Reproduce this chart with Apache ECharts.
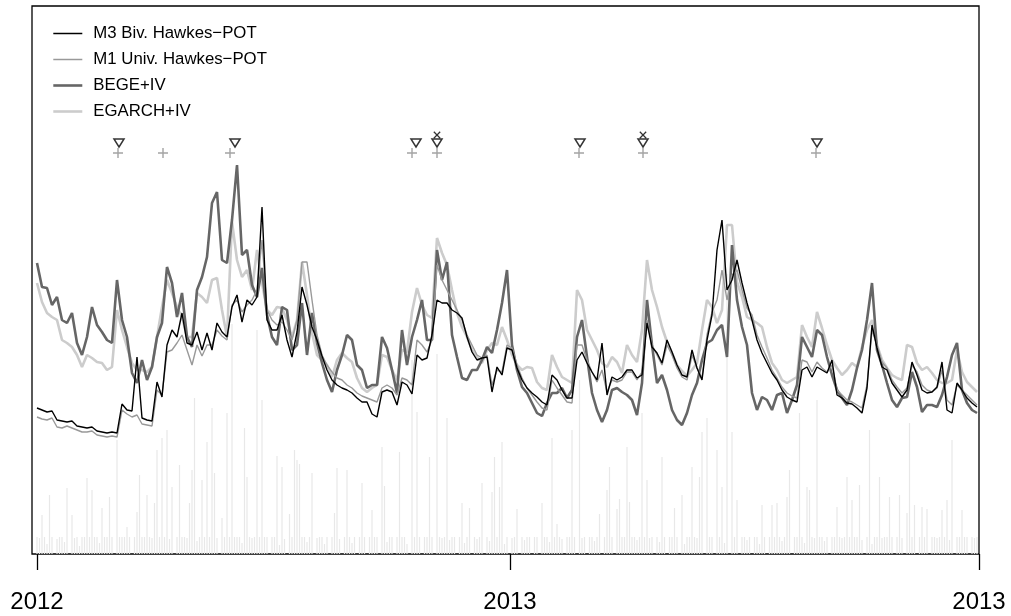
<!DOCTYPE html>
<html>
<head>
<meta charset="utf-8">
<script src="https://cdn.jsdelivr.net/npm/echarts@6/dist/echarts.min.js"></script>
<style>html,body{margin:0;padding:0;background:#fff}#c{width:1011px;height:616px}</style>
</head>
<body>
<div id="c"></div>
<script>
const tickPos = [0, 94.6, 188.4];
const tickLabels = ['2012', '2013', '2013'];

const m3 = [146,144,142,143,134,133,132,133,128,127,126,127,123,122,121,122,121,150,144,143,197,136,134,133,172,157,209,224,217,241,211,209,222,204,221,204,231,222,217,
247,259,232,254,249,257,347,234,224,224,239,214,197,222,267,249,227,214,198,184,174,169,166,164,161,156,152,152,140,137,162,164,162,149,172,169,160,199,194,196,
219,254,251,251,244,241,236,217,202,194,196,197,162,187,179,206,204,186,174,166,161,157,152,149,179,174,164,156,156,194,202,191,182,174,211,159,177,174,177,
184,184,176,179,231,207,201,191,214,202,189,179,177,204,186,174,214,239,304,334,264,274,294,271,251,234,214,201,191,181,174,164,157,154,152,184,187,177,
187,184,181,194,159,156,151,150,146,141,166,229,206,187,184,171,164,157,164,192,179,164,161,162,167,192,144,141,171,164,156,151,147];

const m1 = [137,135,134,136,127,126,128,126,124,122,122,123,119,118,117,118,117,144,140,137,139,130,129,128,164,159,202,204,211,219,204,189,209,198,209,209,224,218,214,
249,254,242,249,254,264,314,244,234,229,232,224,214,234,292,292,254,219,199,189,182,176,174,169,166,161,158,156,154,152,166,169,166,159,176,174,169,214,209,202,
214,289,274,264,254,244,234,219,209,199,196,199,169,184,182,209,206,189,176,166,159,152,146,144,174,166,159,152,151,209,209,194,182,172,184,162,174,172,174,
182,182,174,182,234,209,199,189,209,199,186,177,174,199,186,176,219,242,254,284,254,279,284,264,246,239,219,207,196,184,176,167,161,158,156,194,192,182,
192,186,182,189,164,159,154,152,149,146,169,224,209,192,186,174,167,161,166,189,182,169,164,162,166,184,154,149,169,164,159,154,149];

const bege = [291,267,266,249,257,234,231,241,211,199,217,247,229,222,214,211,274,234,217,181,171,194,174,187,217,231,287,271,237,261,217,207,264,277,297,351,362,294,291,
334,389,299,304,269,257,286,239,217,209,247,244,204,209,251,199,241,211,191,174,162,184,199,219,214,189,184,166,169,169,217,206,184,161,224,189,217,234,254,214,
214,304,274,292,219,197,176,174,184,184,194,207,201,224,251,284,209,184,167,161,151,141,138,151,161,161,166,156,164,217,234,197,161,144,132,144,164,166,162,
159,154,139,171,254,209,171,179,164,144,134,129,141,159,171,194,211,214,224,229,197,309,254,227,209,161,144,157,154,144,159,161,141,154,169,217,207,197,
224,219,197,179,164,156,149,164,186,204,234,271,204,189,171,154,147,156,157,182,167,142,149,149,147,159,177,199,211,164,151,144,141];

const egarch = [271,252,241,237,234,214,211,207,199,187,199,196,192,191,184,187,244,224,207,191,184,184,182,187,217,247,274,261,247,237,217,217,261,257,251,274,276,244,217,
332,294,277,284,264,304,271,244,239,247,246,234,217,234,292,259,221,199,194,189,177,194,201,196,192,176,166,162,166,169,199,197,184,174,204,202,242,266,249,239,
236,316,301,289,264,241,227,217,204,197,191,204,211,209,227,214,199,189,184,187,186,172,166,164,199,187,177,174,171,264,254,224,214,204,191,187,197,192,181,
209,199,192,224,294,264,247,227,212,201,189,183,178,184,191,224,254,247,231,244,329,329,272,257,237,234,231,227,207,191,184,174,171,174,177,229,217,207,
242,226,209,194,186,179,184,191,187,207,224,234,209,194,186,179,176,174,209,207,191,184,187,181,174,171,171,174,204,182,172,167,162];

// absolute returns (light grey needles), half-step grid
const combBase = [
17,16,0,17,10,17,17,0,15,17,17,12,17,0,17,16,17,8,17,17,
0,17,15,17,17,11,0,17,17,16,17,0,13,17,17,17,9,17,0,17,
17,14,17,17,0,17,16,10,17,17,0,17,17,15,17,0,17,12,17,17,
16,0,17,17,13,17,0,17,17,17,10,17,16,0,17,17,14,17,0,17,
17,17,11,0,17,17,16,17,0,17,13,17,17,0,17,17,17,9,17,15,
0,17,17,14,17,0,17,17,12,17,17,0,16,17,17,10,17,0,17,17,
17,15,0,17,17,17,11,17,0,17,16,17,0,17,13,17,17,0,17,17,
12,17,17,0,17,16,17,17,10,0,17,17,15,17,0,17,17,12,17,0,
17,17,16,17,0,14,17,17,0,17,17,11,17,17,0,17,15,17,17,0,
17,13,17,0,17,17,17,10,17,0,16,17,17,0,17,14,17,17,0,17,
17,0,16,17,17,12,0,17,17,17,15,0,17,17,10,17,0,17,16,17,
0,17,17,13,17,17,0,17,15,17,17,0,17,11,17,17,16,0,17,17,
14,17,0,17,17,16,17,0,17,12,17,17,0,17,17,15,17,0,17,10,
17,17,0,17,16,17,13,0,17,17,17,0,15,17,17,11,17,0,17,17,
16,0,17,17,14,17,0,17,17,10,17,17,0,17,16,17,0,17,13,17,
17,17,0,17,17,15,17,11,0,17,17,16,0,17,17,13,17,0,17,17,
0,17,16,17,12,17,0,17,17,17,14,0,17,17,10,17,17,0,16,17,
17,13,17,0,17,17,16,0,17,11,17,17,0,17,15,17,17,0,17,17,
16,17,0,17,17,14,17,0,17,17,12,17,17,0,17,16,17];
const spikeAt = [2,5,12,14,20,22,26,29,32,36,40,41,44,47,48,50,52,54,57,61,62,63,66,68,70,71,74,76,78,83,84,88,90,96,98,101,103,104,105,110,119,120,124,130,134,138,139,145,150,152,157,160,164,170,173,178,182,183,185,186,192,202,206,208,214,217,225,228,229,232,233,236,237,242,244,250,255,258,262,265,266,268,272,274,276,278,280,290,294,296,300,301,305,308,309,312,320,324,326,329,333,337,341,345,348,349,351,354,356,362,364,366,370];
const spikeH = [39,59,66,39,76,64,46,57,114,27,42,79,59,51,104,116,124,67,89,51,84,156,74,112,146,81,36,141,230,126,77,224,154,98,87,40,104,94,90,81,41,86,84,71,44,107,68,102,194,142,97,200,136,51,46,71,62,97,67,112,45,51,116,30,124,174,40,64,87,45,55,107,52,141,74,97,46,59,87,77,122,136,104,67,280,122,54,49,49,51,57,84,141,67,64,154,47,77,54,69,124,77,57,59,41,131,49,47,45,44,54,114,44];

// exceedance events (observation index)
const trianglesAt = [16.4, 39.6, 75.8, 80, 108.6, 121.2, 156];
const plusesAt = [16.2, 25.2, 38.6, 75, 80, 108.4, 121.2, 155.8];
const crossesAt = [80, 121.2];

const needles = combBase.slice();
spikeAt.forEach((k, j) => { needles[k] = Math.max(needles[k] || 0, spikeH[j]); });
const needleData = needles.map((h, k) => [k * 0.5, h]);
const pair = arr => arr.map((v, i) => [i, v]);

const rowTri = 411, rowPlus = 401, rowCross = 419;
const plusPath = 'path://M4.3,0h1.4v10h-1.4zM0,4.3h10v1.4h-10z';
const font = 'Liberation Sans, Arial, Helvetica, sans-serif';

const chart = echarts.init(document.getElementById('c'), null, {renderer: 'canvas'});
chart.setOption({
  animation: false,
  backgroundColor: '#fff',
  grid: {left: 32, right: 32, top: 6, bottom: 62, show: true, borderColor: '#000', borderWidth: 1.3, backgroundColor: 'transparent'},
  xAxis: {
    type: 'value', min: -1, max: 188.4,
    axisLine: {show: false},
    splitLine: {show: false},
    axisTick: {show: true, length: 16, lineStyle: {color: '#000', width: 1.3}, customValues: tickPos},
    axisLabel: {
      customValues: tickPos, margin: 36, fontSize: 24, color: '#000', fontFamily: font,
      showMinLabel: true, showMaxLabel: true,
      formatter: v => { let b = 0; tickPos.forEach((p, j) => { if (Math.abs(p - v) < Math.abs(tickPos[b] - v)) b = j; }); return tickLabels[b]; }
    }
  },
  yAxis: {type: 'value', min: 0, max: 548, show: false, splitLine: {show: false}},
  legend: {
    data: [
      {name: 'M3 Biv. Hawkes−POT', lineStyle: {width: 1.5}},
      {name: 'M1 Univ. Hawkes−POT', lineStyle: {width: 1.5}},
      {name: 'BEGE+IV', lineStyle: {width: 2.6}},
      {name: 'EGARCH+IV', lineStyle: {width: 2.6}}
    ],
    orient: 'vertical', left: 47, top: 20, itemWidth: 29, itemHeight: 17, itemGap: 9,
    itemStyle: {opacity: 0, borderWidth: 0},
    textStyle: {fontSize: 16.8, color: '#000', fontFamily: font, padding: [0, 0, 0, 6]},
    selectedMode: false
  },
  series: [
    {type: 'bar', name: 'abs', data: needleData, barWidth: 1.2, itemStyle: {color: '#e8e8e8'}, silent: true, z: 1},
    {type: 'line', name: 'EGARCH+IV', data: pair(egarch), symbol: 'none', lineStyle: {color: '#cccccc', width: 2.6}, itemStyle: {color: '#cccccc'}, z: 2},
    {type: 'line', name: 'BEGE+IV', data: pair(bege), symbol: 'none', lineStyle: {color: '#666666', width: 2.6}, itemStyle: {color: '#666666'}, z: 3},
    {type: 'line', name: 'M1 Univ. Hawkes−POT', data: pair(m1), symbol: 'none', lineStyle: {color: '#999999', width: 1.4}, itemStyle: {color: '#999999'}, z: 4},
    {type: 'line', name: 'M3 Biv. Hawkes−POT', data: pair(m3), symbol: 'none', lineStyle: {color: '#000000', width: 1.4}, itemStyle: {color: '#000000'}, z: 5},
    {type: 'scatter', name: 'tri', data: trianglesAt.map(x => [x, rowTri]), symbol: 'triangle', symbolRotate: 180, symbolSize: [10, 8],
      itemStyle: {color: '#fff', borderColor: '#000', borderWidth: 1.5}, z: 6},
    {type: 'scatter', name: 'plus', data: plusesAt.map(x => [x, rowPlus]), symbol: plusPath, symbolSize: 10,
      itemStyle: {color: '#8c8c8c'}, z: 6},
    {type: 'scatter', name: 'cross', data: crossesAt.map(x => [x, rowCross]), symbol: plusPath, symbolRotate: 45, symbolSize: 9,
      itemStyle: {color: '#000'}, z: 6}
  ]
});
</script>
</body>
</html>
